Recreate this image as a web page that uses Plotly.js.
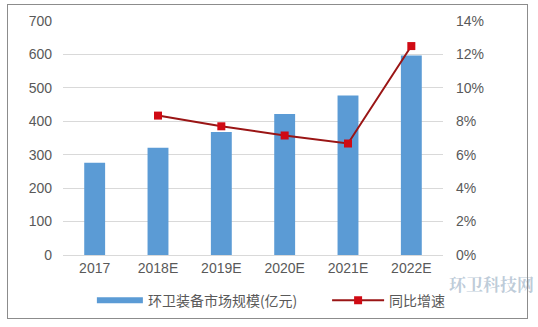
<!DOCTYPE html>
<html>
<head>
<meta charset="utf-8">
<script src="https://cdn.plot.ly/plotly-3.0.1.min.js"></script>
<style>
html,body{margin:0;padding:0;background:#fff;}
#wrap{position:relative;width:538px;height:327px;}
#chart{width:538px;height:327px;}
#frame{position:absolute;left:7px;top:4px;width:519px;height:313px;border:1px solid #8c8c8c;pointer-events:none;}
</style>
</head>
<body>
<div id="wrap">
<div id="chart"></div>
<div id="frame"></div>
</div>
<script>
const categories = ["2017", "2018E", "2019E", "2020E", "2021E", "2022E"];
const marketSize = [276, 321, 368, 422, 477, 597];
const growthCats = ["2018E", "2019E", "2020E", "2021E", "2022E"];
const growthRate = [0.0834, 0.0770, 0.0715, 0.0667, 0.1250];
const leftTicks = [0, 100, 200, 300, 400, 500, 600, 700];
const rightTicks = [0, 0.02, 0.04, 0.06, 0.08, 0.10, 0.12, 0.14];
const barName = "环卫装备市场规模(亿元)";
const lineName = "同比增速";

const font = {family: "Liberation Sans, Arial, sans-serif", size: 14, color: "#595959"};
const legendFont = {family: "Noto Sans CJK SC, sans-serif", size: 14, color: "#595959"};

const traces = [
  {
    type: "bar",
    name: barName,
    x: categories,
    y: marketSize,
    marker: {color: "#5B9BD5"},
    width: 0.33,
    showlegend: false
  },
  {
    // legend entry only: wide bar swatch like the reference
    type: "scatter",
    mode: "lines",
    name: barName,
    x: [null],
    y: [null],
    line: {color: "#5B9BD5", width: 6},
    showlegend: true,
    legend: "legend"
  },
  {
    type: "scatter",
    mode: "lines+markers",
    name: lineName,
    x: growthCats,
    y: growthRate,
    yaxis: "y2",
    line: {color: "#9A1515", width: 2},
    marker: {color: "#D00A14", symbol: "square", size: 8},
    legend: "legend2"
  }
];

const layout = {
  width: 538,
  height: 327,
  margin: {l: 63, r: 95, t: 21, b: 71},
  paper_bgcolor: "#ffffff",
  plot_bgcolor: "#ffffff",
  font: font,
  showlegend: true,
  legend: {
    orientation: "h",
    x: 0.076, xanchor: "left",
    y: -0.19, yanchor: "middle",
    font: legendFont,
    itemwidth: 46
  },
  legend2: {
    orientation: "h",
    x: 0.695, xanchor: "left",
    y: -0.19, yanchor: "middle",
    font: legendFont,
    itemwidth: 52
  },
  xaxis: {
    type: "category",
    categoryorder: "array",
    categoryarray: categories,
    showgrid: false,
    showline: true,
    linecolor: "#d9d9d9",
    ticks: "",
    tickfont: font,
    fixedrange: true
  },
  yaxis: {
    range: [0, 700],
    tickvals: leftTicks,
    ticktext: leftTicks.map(String),
    showgrid: true,
    gridcolor: "#d9d9d9",
    zeroline: false,
    showline: false,
    ticks: "",
    ticklabelstandoff: 10,
    tickfont: font,
    fixedrange: true
  },
  yaxis2: {
    overlaying: "y",
    side: "right",
    range: [0, 0.14],
    tickvals: rightTicks,
    ticktext: rightTicks.map(v => Math.round(v * 100) + "%"),
    showgrid: false,
    zeroline: false,
    showline: false,
    ticks: "",
    ticklabelstandoff: 12,
    tickfont: font,
    fixedrange: true
  },
  annotations: [
    {
      xref: "paper", yref: "paper", x: 1.245, y: -0.122, xanchor: "right", yanchor: "middle",
      text: "<b>环卫科技网</b>", showarrow: false,
      font: {family: "Noto Serif CJK SC, Noto Sans CJK SC, serif", size: 17, color: "rgba(110,140,170,0.45)"}
    }
  ]
};

Plotly.newPlot("chart", traces, layout, {displayModeBar: false, staticPlot: true});
</script>
</body>
</html>
